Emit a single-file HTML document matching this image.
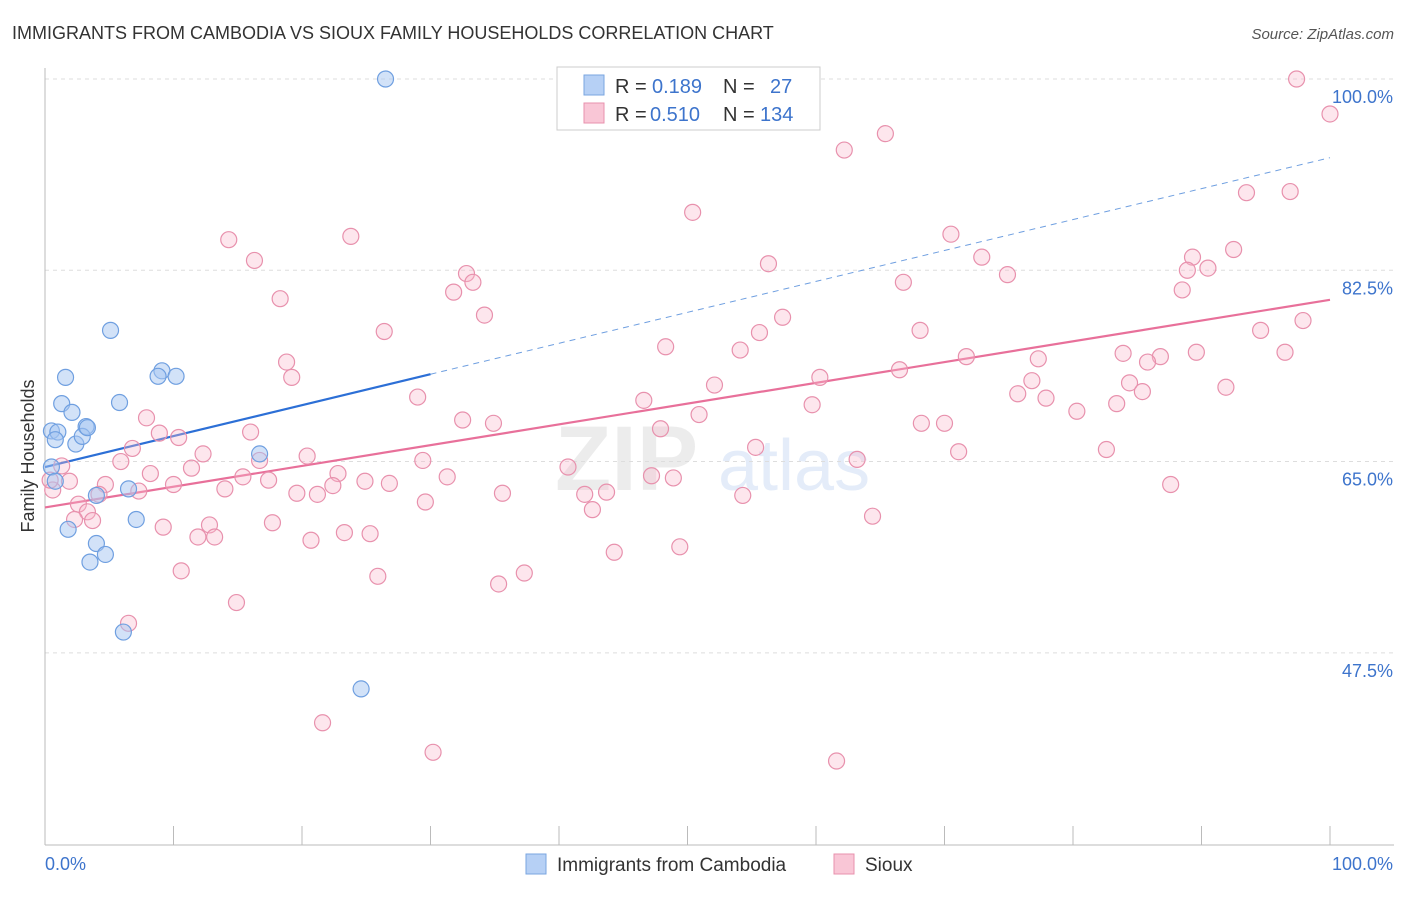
<!DOCTYPE html>
<html><head><meta charset="utf-8">
<style>
body{margin:0;background:#fff;font-family:"Liberation Sans",sans-serif;}
svg text{font-family:"Liberation Sans",sans-serif;}
</style></head>
<body>
<svg id="chart" width="1406" height="892" viewBox="0 0 1406 892" xmlns="http://www.w3.org/2000/svg">
<text x="12" y="39" font-size="18" fill="#333">IMMIGRANTS FROM CAMBODIA VS SIOUX FAMILY HOUSEHOLDS CORRELATION CHART</text>
<text x="1394" y="39" font-size="15" fill="#555" text-anchor="end" font-style="italic">Source: ZipAtlas.com</text>
<text x="34" y="456" font-size="18" fill="#333" text-anchor="middle" transform="rotate(-90 34 456)">Family Households</text>
<g opacity="0.18">
<text x="555" y="490" font-size="92" font-family="Liberation Serif" font-weight="bold" fill="#999">ZIP</text>
<text x="718" y="490" font-size="72" fill="#6c9be0">atlas</text>
</g>
<g id="grid"></g>
<g id="axes"></g>
<g id="trends"></g>
<g id="points"></g>
<g>
<rect x="557" y="67" width="263" height="63" fill="#fff" stroke="#ccc"/>
<rect x="584" y="75" width="20" height="20" fill="#b6d0f5" stroke="#7aa6e0"/>
<text x="615" y="93" font-size="20" fill="#333">R =</text>
<text x="652" y="93" font-size="20" fill="#3d74cc">0.189</text>
<text x="723" y="93" font-size="20" fill="#333">N =</text>
<text x="770" y="93" font-size="20" fill="#3d74cc">27</text>
<rect x="584" y="103" width="20" height="20" fill="#f9c6d6" stroke="#e891ad"/>
<text x="615" y="121" font-size="20" fill="#333">R =</text>
<text x="650" y="121" font-size="20" fill="#3d74cc">0.510</text>
<text x="723" y="121" font-size="20" fill="#333">N =</text>
<text x="760" y="121" font-size="20" fill="#3d74cc">134</text>
</g>
<g>
<rect x="526" y="854" width="20" height="20" fill="#b6d0f5" stroke="#7aa6e0"/>
<text x="557" y="871" font-size="19" fill="#333">Immigrants from Cambodia</text>
<rect x="834" y="854" width="20" height="20" fill="#f9c6d6" stroke="#e891ad"/>
<text x="865" y="871" font-size="19" fill="#333">Sioux</text>
</g>
</svg>
<script>
const yTicks=[100,82.5,65,47.5];
const yTickLabels=["100.0%","82.5%","65.0%","47.5%"];
const xTickLabels=["0.0%","100.0%"];
const blueX=[26.5,5.1,1.6,9.1,8.8,10.2,5.8,1.3,2.1,0.5,1.0,0.8,3.2,2.4,2.9,3.3,16.7,0.5,0.8,4.0,6.5,7.1,1.8,4.0,4.7,3.5,6.1,24.6];
const blueY=[100,77.0,72.7,73.3,72.8,72.8,70.4,70.3,69.5,67.8,67.7,67.0,68.2,66.6,67.3,68.1,65.7,64.5,63.2,61.9,62.5,59.7,58.8,57.5,56.5,55.8,49.4,44.2];
const pinkX=[97.4,100,65.4,62.2,96.9,93.5,50.4,70.5,14.3,23.8,92.5,16.3,72.9,89.3,90.5,56.3,32.8,33.3,88.9,74.9,31.8,66.8,88.5,18.3,34.2,57.4,26.4,55.6,68.1,94.6,97.9,48.3,54.1,83.9,89.6,96.5,86.8,71.7,85.8,77.3,18.8,19.2,60.3,66.5,76.8,52.1,84.4,85.4,91.9,29.0,75.7,46.6,59.7,77.9,83.4,80.3,7.9,50.9,32.5,34.9,68.2,70.0,8.9,47.9,16.0,10.4,55.3,6.8,71.1,12.3,82.6,16.7,20.4,29.4,5.9,1.3,11.4,63.2,40.7,8.2,15.4,17.4,22.8,24.9,31.3,47.2,48.9,26.8,1.9,4.7,10.0,22.4,14.0,19.6,21.2,35.6,43.7,87.6,4.2,7.3,42.0,29.6,2.6,42.6,54.3,3.3,64.4,9.2,12.8,17.7,3.7,2.3,11.9,13.2,20.7,23.3,25.3,44.3,49.4,10.6,25.9,37.3,35.3,14.9,6.5,21.6,30.2,61.6,0.6,0.4];
const pinkY=[100,96.8,95.0,93.5,89.7,89.6,87.8,85.8,85.3,85.6,84.4,83.4,83.7,83.7,82.7,83.1,82.2,81.4,82.5,82.1,80.5,81.4,80.7,79.9,78.4,78.2,76.9,76.8,77.0,77.0,77.9,75.5,75.2,74.9,75.0,75.0,74.6,74.6,74.1,74.4,74.1,72.7,72.7,73.4,72.4,72.0,72.2,71.4,71.8,70.9,71.2,70.6,70.2,70.8,70.3,69.6,69.0,69.3,68.8,68.5,68.5,68.5,67.6,68.0,67.7,67.2,66.3,66.2,65.9,65.7,66.1,65.1,65.5,65.1,65.0,64.6,64.4,65.2,64.5,63.9,63.6,63.3,63.9,63.2,63.6,63.7,63.5,63.0,63.2,62.9,62.9,62.8,62.5,62.1,62.0,62.1,62.2,62.9,62.0,62.3,62.0,61.3,61.1,60.6,61.9,60.4,60.0,59.0,59.2,59.4,59.6,59.7,58.1,58.1,57.8,58.5,58.4,56.7,57.2,55.0,54.5,54.8,53.8,52.1,50.2,41.1,38.4,37.6,62.4,63.3];
const blueTrend=[64.5,92.8];   // value at x=0 and x=100
const blueSolidEnd=30;
const pinkTrend=[60.8,79.8];

const NS="http://www.w3.org/2000/svg";
const X0=45,X1=1330;
function sx(v){return X0+(X1-X0)*v/100;}
function sy(v){return 79+(100-v)*10.93;}
function mk(tag,attrs,parent){const e=document.createElementNS(NS,tag);for(const k in attrs)e.setAttribute(k,attrs[k]);parent.appendChild(e);return e;}
const grid=document.getElementById('grid'),axes=document.getElementById('axes'),trends=document.getElementById('trends'),pts=document.getElementById('points');
yTicks.forEach((t,i)=>{
  const l=mk('line',{x1:45,x2:1394,y1:sy(t),y2:sy(t),stroke:'#ddd','stroke-dasharray':'4 4'},grid);
  
  
  const tx=mk('text',{x:1393,y:sy(t)+24,'font-size':18,fill:'#3d74cc','text-anchor':'end'},grid);
  tx.textContent=yTickLabels[i];
  
  
});
const ax=mk('line',{x1:45,x2:1394,y1:845,y2:845,stroke:'#bbb'},axes);


const ay=mk('line',{x1:45,x2:45,y1:68,y2:845,stroke:'#bbb'},axes);


for(let i=0;i<=10;i++){
  const t=mk('line',{x1:sx(i*10),x2:sx(i*10),y1:826,y2:845,stroke:'#bbb'},axes);
  
  
}
const xl0=mk('text',{x:45,y:870,'font-size':18,fill:'#3d74cc'},axes);xl0.textContent=xTickLabels[0];


const xl1=mk('text',{x:1393,y:870,'font-size':18,fill:'#3d74cc','text-anchor':'end'},axes);xl1.textContent=xTickLabels[1];



function drawPts(xs,ys,fill,stroke,name){
  xs.forEach((x,i)=>{
    const c=mk('circle',{cx:sx(x),cy:sy(ys[i]),r:8,fill:fill,stroke:stroke,'stroke-width':1.2},pts);
    
    
  });
}
drawPts(pinkX,pinkY,'rgba(248,182,204,0.35)','#e891ad','sioux-point');
drawPts(blueX,blueY,'rgba(165,198,242,0.5)','#6f9fe0','cambodia-point');
function ty(tr,x){return tr[0]+(tr[1]-tr[0])*x/100;}
const pl=mk('line',{x1:sx(0),y1:sy(ty(pinkTrend,0)),x2:sx(100),y2:sy(ty(pinkTrend,100)),stroke:'#e8709a','stroke-width':2.2},trends);


const bl=mk('line',{x1:sx(0),y1:sy(ty(blueTrend,0)),x2:sx(blueSolidEnd),y2:sy(ty(blueTrend,blueSolidEnd)),stroke:'#2c6fd6','stroke-width':2.2},trends);


const bd=mk('line',{x1:sx(blueSolidEnd),y1:sy(ty(blueTrend,blueSolidEnd)),x2:sx(100),y2:sy(ty(blueTrend,100)),stroke:'#6f9fe0','stroke-width':1,'stroke-dasharray':'6 5'},trends);


</script>
</body></html>
